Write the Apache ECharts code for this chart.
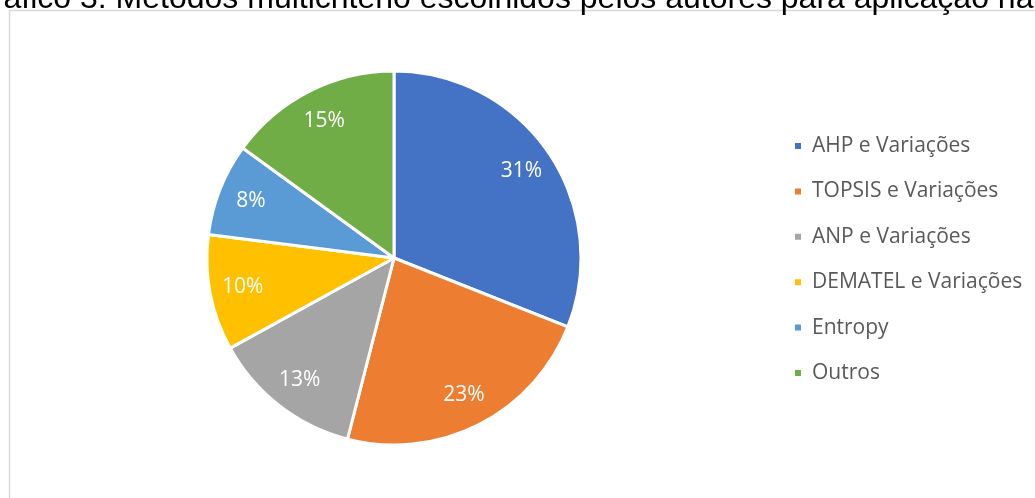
<!DOCTYPE html>
<html>
<head>
<meta charset="utf-8">
<script src="https://cdn.jsdelivr.net/npm/echarts@6/dist/echarts.min.js"></script>
<style>html,body{margin:0;padding:0;background:#fff;}#c{width:1035px;height:498px;}</style>
</head>
<body>
<div id="c"></div>
<script>
const categories = ['AHP e Variações', 'TOPSIS e Variações', 'ANP e Variações', 'DEMATEL e Variações', 'Entropy', 'Outros'];
const values = [31, 23, 13, 10, 8, 15];
const colors = ['#4472C4', '#ED7D31', '#A5A5A5', '#FFC000', '#5B9BD5', '#70AD47'];
const titleText = 'Gráfico 3: Métodos multicritério escolhidos pelos autores para aplicação na';

const chart = echarts.init(document.getElementById('c'), null, {renderer: 'canvas'});
const data = categories.map((n, i) => ({name: n, value: values[i], itemStyle: {color: colors[i]}}));
const labelData = categories.map((n, i) => ({name: n, value: values[i]}));
chart.setOption({
  animation: false,
  graphic: [
    {type: 'rect', shape: {x: 9.5, y: 10.5, width: 1200, height: 700}, style: {fill: 'none', stroke: '#d9d9d9', lineWidth: 1.5}, z: 0},
    {type: 'text', x: -32, y: 15, style: {text: titleText, font: '32px "Liberation Sans", Arial, sans-serif', fill: '#000', textVerticalAlign: 'bottom', verticalAlign: 'alphabetic'}, z: 10}
  ],
  legend: {
    orient: 'vertical',
    left: 788,
    top: 129,
    icon: 'rect',
    itemWidth: 8,
    itemHeight: 8,
    itemGap: 21.4,
    data: categories,
    textStyle: {color: '#595959', fontSize: 21, fontFamily: '"Open Sans", sans-serif', lineHeight: 24, padding: [0, 0, 0, 5]}
  },
  series: [
    {
      type: 'pie',
      center: [394, 258],
      radius: [0, 187],
      startAngle: 90,
      clockwise: true,
      silent: true,
      label: {show: false},
      labelLine: {show: false},
      itemStyle: {borderColor: '#fff', borderWidth: 3},
      data: data
    },
    {
      type: 'pie',
      center: [394, 258],
      radius: [115, 187],
      startAngle: 90,
      clockwise: true,
      silent: true,
      legendHoverLink: false,
      itemStyle: {color: 'rgba(0,0,0,0)', borderWidth: 0},
      label: {show: true, position: 'inside', formatter: '{c}%', color: '#fff', fontSize: 21, fontFamily: '"Open Sans", sans-serif'},
      labelLine: {show: false},
      data: labelData,
      z: 5
    }
  ]
});
</script>
</body>
</html>
